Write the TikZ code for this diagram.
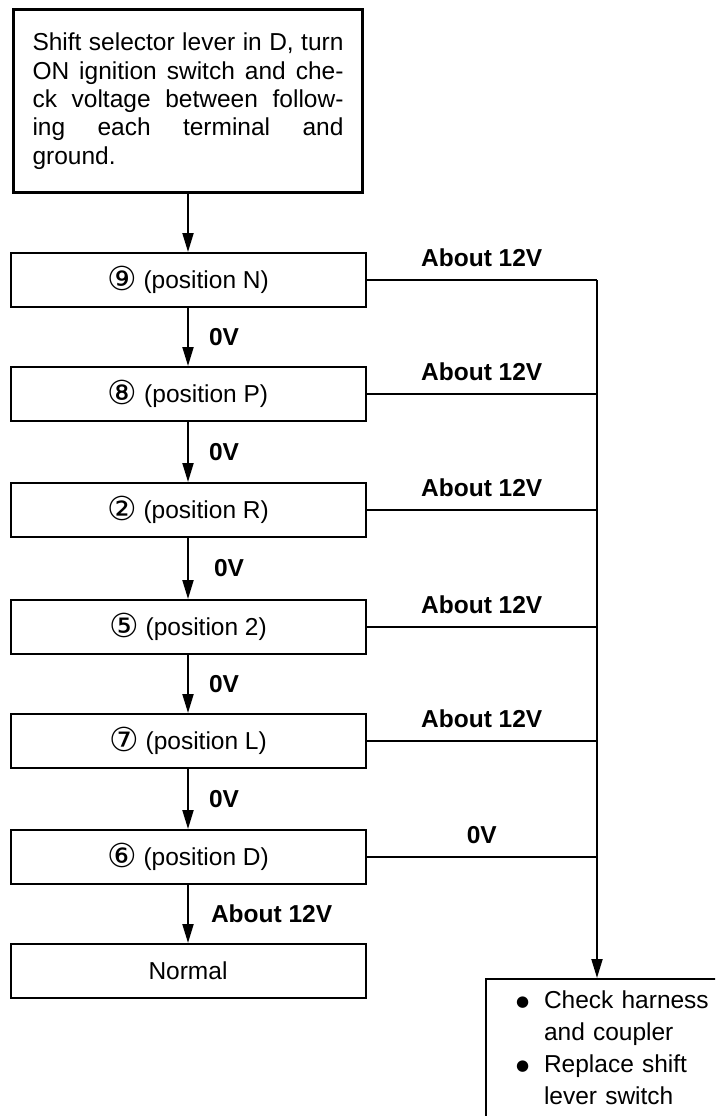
\documentclass[tikz,border=0pt]{standalone}
\usepackage{fontspec}
\setmainfont{Liberation Sans}
\newfontfamily\circfont{DejaVu Sans}
\usetikzlibrary{arrows.meta}

\newcommand{\cnum}[1]{\raisebox{-2.5pt}{\circfont\fontsize{33}{33}\selectfont #1}}
\newcommand{\fullline}[1]{\makebox[311pt][s]{\spaceskip=.28em plus 2em minus .12em #1}}
\newcommand{\blt}{\makebox[28pt][l]{\raisebox{2pt}{\circfont\fontsize{15}{15}\selectfont ●}}}

\begin{document}
\begin{tikzpicture}[x=1pt, y=1pt,
		every node/.style={font=\fontsize{24.5}{28.3}\selectfont},
		stepbox/.style={draw, line width=2pt, minimum width=355pt, minimum height=54pt, inner sep=0pt},
		flow/.style={line width=2pt},
		flowarrow/.style={flow, -{Triangle[length=19pt, width=11pt]}},
		vlabel/.style={font=\fontsize{24.5}{28.3}\selectfont\bfseries, inner sep=0pt}]
				\useasboundingbox (0,0) rectangle (715,-1116);
				\clip (0,0) rectangle (715,-1116);
				\coordinate (bus) at (597,0);
				
				% Draw the start box
				\node[draw, line width=3.4pt, text width=311pt, minimum height=183pt, inner xsep=19pt, align=left, anchor=north] (start) at (188,-8)
				{\fullline{Shift selector lever in D, turn}\\ \fullline{ON ignition switch and che-}\\ \fullline{ck voltage between follow-}\\ \fullline{ing each terminal and}\\ ground.};
				
				% Draw the terminal checks
				\node[stepbox] (pN) at (188,-280) {\cnum{⑨} (position N)};
				\node[stepbox] (pP) at (188,-394) {\cnum{⑧} (position P)};
				\node[stepbox] (pR) at (188,-510) {\cnum{②} (position R)};
				\node[stepbox] (p2) at (188,-627) {\cnum{⑤} (position 2)};
				\node[stepbox] (pL) at (188,-741) {\cnum{⑦} (position L)};
				\node[stepbox] (pD) at (188,-857) {\cnum{⑥} (position D)};
				\node[stepbox] (normal) at (188,-971) {Normal};
				
				% Draw the repair box, cut off by the page edge
				\node[draw, line width=2pt, text width=200pt, inner xsep=30pt, inner ysep=12pt, text depth=200pt, align=left, anchor=north west,
					font=\fontsize{24.5}{32}\selectfont] (fix) at (485,-978)
				{\blt Check harness\\ \hspace*{28pt}and coupler\\ \blt Replace shift\\ \hspace*{28pt}lever switch};
				
				% Draw the main sequence
				\draw[flowarrow] (start.south) -- (start.south |- pN.north);
				\draw[flowarrow] (pN) -- node[vlabel, right=20pt] {0V} (pP);
				\draw[flowarrow] (pP) -- node[vlabel, right=20pt] {0V} (pR);
				\draw[flowarrow] (pR) -- node[vlabel, right=25pt] {0V} (p2);
				\draw[flowarrow] (p2) -- node[vlabel, right=20pt] {0V} (pL);
				\draw[flowarrow] (pL) -- node[vlabel, right=20pt] {0V} (pD);
				\draw[flowarrow] (pD) -- node[vlabel, right=22pt] {About 12V} (normal);
				
				% Draw the branches to the repair box
				\draw[flow] (pN) -- node[vlabel, above=12pt] {About 12V} (pN -| bus);
				\draw[flow] (pP) -- node[vlabel, above=12pt] {About 12V} (pP -| bus);
				\draw[flow] (pR) -- node[vlabel, above=12pt] {About 12V} (pR -| bus);
				\draw[flow] (p2) -- node[vlabel, above=12pt] {About 12V} (p2 -| bus);
				\draw[flow] (pL) -- node[vlabel, above=12pt] {About 12V} (pL -| bus);
				\draw[flow] (pD) -- node[vlabel, above=12pt] {0V} (pD -| bus);
				\draw[flowarrow] (pN -| bus) -- (bus |- fix.north);
			\end{tikzpicture}
\end{document}
